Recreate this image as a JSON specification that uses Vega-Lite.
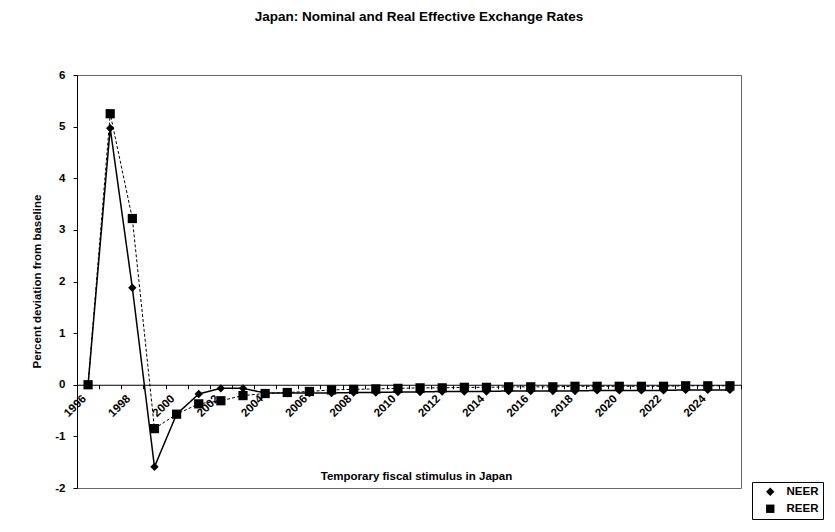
{
  "$schema": "https://vega.github.io/schema/vega-lite/v6.json",
  "autosize": "none",
  "width": 664,
  "height": 413,
  "padding": {"left": 77, "top": 75, "right": 94, "bottom": 44},
  "background": "white",
  "config": {
    "font": "Liberation Sans",
    "view": {"stroke": "#666", "strokeWidth": 1}
  },
  "title": {
    "text": "Japan: Nominal and Real Effective Exchange Rates",
    "font": "Liberation Sans",
    "fontSize": 13.5,
    "fontWeight": "bold",
    "color": "black",
    "anchor": "middle",
    "frame": "group",
    "dx": 10,
    "offset": 46
  },
  "data": {
    "values": [
      {"year": "1996", "series": "NEER", "value": 0},
      {"year": "1997", "series": "NEER", "value": 4.97},
      {"year": "1998", "series": "NEER", "value": 1.88},
      {"year": "1999", "series": "NEER", "value": -1.59},
      {"year": "2000", "series": "NEER", "value": -0.57},
      {"year": "2001", "series": "NEER", "value": -0.18},
      {"year": "2002", "series": "NEER", "value": -0.07},
      {"year": "2003", "series": "NEER", "value": -0.07},
      {"year": "2004", "series": "NEER", "value": -0.16},
      {"year": "2005", "series": "NEER", "value": -0.16},
      {"year": "2006", "series": "NEER", "value": -0.16},
      {"year": "2007", "series": "NEER", "value": -0.16},
      {"year": "2008", "series": "NEER", "value": -0.15},
      {"year": "2009", "series": "NEER", "value": -0.15},
      {"year": "2010", "series": "NEER", "value": -0.14},
      {"year": "2011", "series": "NEER", "value": -0.14},
      {"year": "2012", "series": "NEER", "value": -0.13},
      {"year": "2013", "series": "NEER", "value": -0.13},
      {"year": "2014", "series": "NEER", "value": -0.13},
      {"year": "2015", "series": "NEER", "value": -0.12},
      {"year": "2016", "series": "NEER", "value": -0.12},
      {"year": "2017", "series": "NEER", "value": -0.12},
      {"year": "2018", "series": "NEER", "value": -0.12},
      {"year": "2019", "series": "NEER", "value": -0.11},
      {"year": "2020", "series": "NEER", "value": -0.11},
      {"year": "2021", "series": "NEER", "value": -0.11},
      {"year": "2022", "series": "NEER", "value": -0.11},
      {"year": "2023", "series": "NEER", "value": -0.1},
      {"year": "2024", "series": "NEER", "value": -0.1},
      {"year": "2025", "series": "NEER", "value": -0.1},
      {"year": "1996", "series": "REER", "value": 0},
      {"year": "1997", "series": "REER", "value": 5.25},
      {"year": "1998", "series": "REER", "value": 3.22},
      {"year": "1999", "series": "REER", "value": -0.85},
      {"year": "2000", "series": "REER", "value": -0.57},
      {"year": "2001", "series": "REER", "value": -0.37},
      {"year": "2002", "series": "REER", "value": -0.31},
      {"year": "2003", "series": "REER", "value": -0.21},
      {"year": "2004", "series": "REER", "value": -0.17},
      {"year": "2005", "series": "REER", "value": -0.15},
      {"year": "2006", "series": "REER", "value": -0.13},
      {"year": "2007", "series": "REER", "value": -0.1},
      {"year": "2008", "series": "REER", "value": -0.09},
      {"year": "2009", "series": "REER", "value": -0.08},
      {"year": "2010", "series": "REER", "value": -0.07},
      {"year": "2011", "series": "REER", "value": -0.06},
      {"year": "2012", "series": "REER", "value": -0.06},
      {"year": "2013", "series": "REER", "value": -0.05},
      {"year": "2014", "series": "REER", "value": -0.05},
      {"year": "2015", "series": "REER", "value": -0.04},
      {"year": "2016", "series": "REER", "value": -0.04},
      {"year": "2017", "series": "REER", "value": -0.04},
      {"year": "2018", "series": "REER", "value": -0.03},
      {"year": "2019", "series": "REER", "value": -0.03},
      {"year": "2020", "series": "REER", "value": -0.03},
      {"year": "2021", "series": "REER", "value": -0.03},
      {"year": "2022", "series": "REER", "value": -0.03},
      {"year": "2023", "series": "REER", "value": -0.02},
      {"year": "2024", "series": "REER", "value": -0.02},
      {"year": "2025", "series": "REER", "value": -0.02}
    ]
  },
  "encoding": {
    "x": {
      "field": "year",
      "type": "ordinal",
      "sort": "ascending",
      "scale": {"type": "band", "paddingInner": 0, "paddingOuter": 0},
      "axis": {
        "offset": -103.25,
        "domainColor": "black",
        "domainWidth": 1,
        "tickColor": "black",
        "tickSize": 4,
        "tickBand": "extent",
        "grid": false,
        "labelAngle": -45,
        "labelAlign": "right",
        "labelBaseline": "middle",
        "labelPadding": 8,
        "labelOffset": -4,
        "labelFont": "Liberation Sans",
        "labelFontSize": 11.5,
        "labelFontWeight": "bold",
        "labelColor": "black",
        "labelOverlap": false,
        "labelExpr": "parseInt(datum.value) % 2 == 0 ? datum.value : ''",
        "title": "Temporary fiscal stimulus in Japan",
        "titleFont": "Liberation Sans",
        "titleFontSize": 11.5,
        "titleFontWeight": "bold",
        "titleColor": "black",
        "titleX": 339,
        "titleY": 92,
        "titleBaseline": "middle",
        "titleAlign": "center"
      }
    },
    "y": {
      "field": "value",
      "type": "quantitative",
      "scale": {"domain": [-2, 6], "nice": false, "zero": false},
      "axis": {
        "values": [-2, -1, 0, 1, 2, 3, 4, 5, 6],
        "labelExpr": "replace(datum.label, '−', '-')",
        "domainColor": "black",
        "tickColor": "black",
        "tickSize": 4,
        "grid": false,
        "labelFont": "Liberation Sans",
        "labelFontSize": 11.5,
        "labelFontWeight": "bold",
        "labelColor": "black",
        "labelPadding": 8,
        "title": "Percent deviation from baseline",
        "titleFont": "Liberation Sans",
        "titleFontSize": 11.5,
        "titleFontWeight": "bold",
        "titleColor": "black",
        "titleX": -40,
        "titleY": 206,
        "titleAngle": -90,
        "titleBaseline": "middle",
        "titleAlign": "center"
      }
    }
  },
  "layer": [
    {
      "mark": {"type": "line", "color": "black"},
      "encoding": {
        "detail": {"field": "series"},
        "strokeDash": {
          "field": "series",
          "scale": {"domain": ["NEER", "REER"], "range": [[1, 0], [3, 2]]},
          "legend": null
        },
        "strokeWidth": {
          "field": "series",
          "scale": {"domain": ["NEER", "REER"], "range": [1.5, 1]},
          "legend": null
        }
      }
    },
    {
      "mark": {"type": "point", "filled": true, "color": "black", "opacity": 1},
      "encoding": {
        "shape": {
          "field": "series",
          "scale": {"domain": ["NEER", "REER"], "range": ["diamond", "square"]},
          "legend": null
        },
        "size": {
          "field": "series",
          "scale": {"domain": ["NEER", "REER"], "range": [70, 85]},
          "legend": null
        }
      }
    },
    {
      "mark": {"type": "point", "filled": true, "color": "black", "fill": "black", "stroke": "black", "strokeWidth": 1, "opacity": 0},
      "encoding": {
        "shape": {
          "field": "series",
          "scale": {
            "domain": ["NEER", "REER"],
            "range": ["diamond", "square"]
          },
          "legend": {
            "title": null,
            "orient": "none",
            "legendX": 675,
            "legendY": 407,
            "strokeColor": "black",
            "padding": 4,
            "symbolSize": 70,
            "symbolOpacity": 1,
            "symbolFillColor": "black",
            "symbolStrokeColor": "black",
            "symbolStrokeWidth": 1,
            "symbolOffset": 8.5,
            "labelOffset": 10.5,
            "rowPadding": 4,
            "labelFont": "Liberation Sans",
            "labelFontSize": 11.5,
            "labelFontWeight": "bold",
            "labelColor": "black"
          }
        }
      }
    }
  ],
  "resolve": {"scale": {"shape": "independent", "size": "independent"}}
}
